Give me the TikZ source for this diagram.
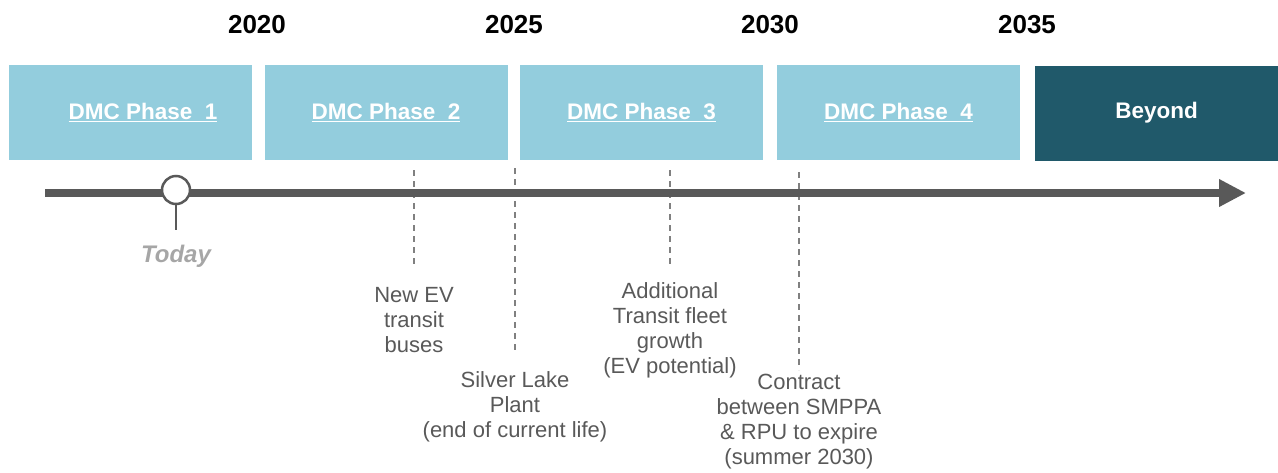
\documentclass[tikz,border=0pt]{standalone}
\usepackage{fontspec}
\setmainfont{Liberation Sans}
\usepackage{xcolor}
\usepackage{tikz}
\usetikzlibrary{positioning,arrows.meta}

\definecolor{phaseblue}{HTML}{93CDDD}
\definecolor{beyondteal}{HTML}{20596A}
\definecolor{axisgray}{HTML}{595959}
\definecolor{notegray}{HTML}{595959}
\definecolor{todaygray}{HTML}{A6A6A6}

\begin{document}
\begin{tikzpicture}[
            x=1pt, y=-1pt,
            phasebox/.style={rectangle, minimum width=243pt, minimum height=95pt, inner sep=0pt, text=white, font=\fontsize{22.5}{26}\selectfont\bfseries},
            yearlabel/.style={font=\fontsize{26}{30}\selectfont\bfseries},
            note/.style={align=center, text=notegray, font=\fontsize{22}{25}\selectfont},
            tick/.style={draw=gray, line width=1.4pt, dash pattern=on 6pt off 5pt}
        ]
            \useasboundingbox (0,0) rectangle (1278,472);
            % Years
            \node[yearlabel] (y2020) at ( 257, 25) {2020};
            \node[yearlabel] (y2025) at ( 514, 25) {2025};
            \node[yearlabel] (y2030) at ( 770, 25) {2030};
            \node[yearlabel] (y2035) at (1027, 25) {2035};
            % Phases
            \begin{scope}[
                every node/.style={phasebox, fill=phaseblue}
            ]
                \node (ph1) at ( 130, 112.5) {\hspace*{26pt}\underline{DMC Phase\ \ 1}};
                \node (ph2) at ( 386, 112.5) {\underline{DMC Phase\ \ 2}};
                \node (ph3) at ( 641.5, 112.5) {\underline{DMC Phase\ \ 3}};
                \node (ph4) at ( 898.5, 112.5) {\underline{DMC Phase\ \ 4}};
            \end{scope}
            \node[phasebox, fill=beyondteal] (beyond) at (1156.5, 113) {Beyond};
            % Timeline
            \coordinate (tstart) at (45, 193);
            \coordinate (tend) at (1246, 193);
            % Milestone ticks
            \coordinate (m1a) at (414, 170); \coordinate (m1b) at (414, 265);
            \coordinate (m2a) at (515, 168); \coordinate (m2b) at (515, 350);
            \coordinate (m3a) at (670, 170); \coordinate (m3b) at (670, 265);
            \coordinate (m4a) at (799, 172); \coordinate (m4b) at (799, 370);
            \draw[tick] (m1a) -- (m1b);
            \draw[tick] (m2a) -- (m2b);
            \draw[tick] (m3a) -- (m3b);
            \draw[tick] (m4a) -- (m4b);
            \draw[axisgray, line width=8pt, -{Triangle[length=27pt, width=26pt]}] (tstart) -- (tend);
            % Today marker
            \coordinate (stem) at (176, 230);
            \node[circle, draw=axisgray, line width=2.5pt, fill=white, minimum size=28pt, inner sep=0pt] (today) at (176, 190) {};
            \draw[axisgray, line width=2.5pt] (today.south) -- (stem);
            \node[text=todaygray, font=\fontsize{24}{28}\selectfont\bfseries\itshape] (todaylbl) at (176, 256) {Today};
            % Notes
            \node[note] (n1) at (414, 320) {New EV\\transit\\buses};
            \node[note] (n2) at (515, 407) {Silver Lake\\Plant\\(end of current life)};
            \node[note] (n3) at (670, 330.5) {Additional\\Transit fleet\\growth\\(EV potential)};
            \node[note] (n4) at (799, 421.5) {Contract\\between SMPPA\\\& RPU to expire\\(summer 2030)};
        \end{tikzpicture}
\end{document}
